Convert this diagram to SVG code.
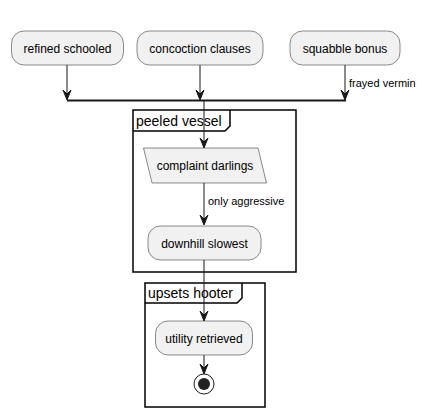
<svg xmlns="http://www.w3.org/2000/svg" width="427" height="419" viewBox="0 0 427 419">
<style>
.box{fill:#F1F1F1;stroke:#181818;stroke-width:0.5}
.t{font-family:"Liberation Sans",Arial,sans-serif;font-size:12px;fill:#000}
.lbl{font-family:"Liberation Sans",Arial,sans-serif;font-size:11px;fill:#000}
.gt{font-family:"Liberation Sans",Arial,sans-serif;font-size:14px;fill:#000}
.frame{fill:none;stroke:#000;stroke-width:1.5}
.ln{fill:none;stroke:#181818;stroke-width:1}
.ah{fill:#181818;stroke:#181818;stroke-width:1}
</style>
<rect width="427" height="419" fill="#FFFFFF"/>
<g id="peeled-vessel">
<rect class="frame" x="133" y="110" width="163" height="162"/>
<path class="frame" d="M133,131 L225,131 L230,126 L230,110"/>
<text class="gt" x="136" y="126">peeled vessel</text>
</g>
<g id="upsets-hooter">
<rect class="frame" x="145" y="283" width="120" height="124"/>
<path class="frame" d="M145,303 L237,303 L242,298 L242,283"/>
<text class="gt" x="148" y="298">upsets hooter</text>
</g>
<g id="connectors">
<line class="ln" x1="67" y1="65" x2="67" y2="99"/>
<polygon class="ah" points="63,90 67,100 71,90 67,94"/>
<line class="ln" x1="200" y1="65" x2="200" y2="99"/>
<polygon class="ah" points="196,90 200,100 204,90 200,94"/>
<line class="ln" x1="345" y1="65" x2="345" y2="99"/>
<polygon class="ah" points="341,90 345,100 349,90 345,94"/>
<text class="lbl" x="349" y="87">frayed vermin</text>
<line x1="67" y1="100.5" x2="346" y2="100.5" stroke="#181818" stroke-width="2"/>
<line class="ln" x1="204" y1="101" x2="204" y2="147"/>
<polygon class="ah" points="200,138 204,148 208,138 204,142"/>
<line class="ln" x1="204" y1="183" x2="204" y2="224"/>
<polygon class="ah" points="200,215 204,225 208,215 204,219"/>
<text class="lbl" x="208" y="205">only aggressive</text>
<line class="ln" x1="204" y1="260" x2="204" y2="320"/>
<polygon class="ah" points="200,311 204,321 208,311 204,315"/>
<line class="ln" x1="204" y1="355" x2="204" y2="373"/>
<polygon class="ah" points="200,364 204,374 208,364 204,368"/>
</g>
<g id="refined-schooled">
<rect class="box" x="11.5" y="31" width="112" height="34" rx="12.5"/>
<text class="t" x="67.5" y="53" text-anchor="middle">refined schooled</text>
</g>
<g id="concoction-clauses">
<rect class="box" x="137" y="31" width="126" height="34" rx="12.5"/>
<text class="t" x="200" y="53" text-anchor="middle">concoction clauses</text>
</g>
<g id="squabble-bonus">
<rect class="box" x="290" y="31" width="110" height="34" rx="12.5"/>
<text class="t" x="345" y="53" text-anchor="middle">squabble bonus</text>
</g>
<g id="complaint-darlings">
<polygon class="box" points="143.5,148 258,148 266.5,183 152,183"/>
<text class="t" x="205" y="169.5" text-anchor="middle">complaint darlings</text>
</g>
<g id="downhill-slowest">
<rect class="box" x="148" y="226" width="113" height="34" rx="12.5"/>
<text class="t" x="204.5" y="247.5" text-anchor="middle">downhill slowest</text>
</g>
<g id="utility-retrieved">
<rect class="box" x="155.5" y="321" width="97" height="34" rx="12.5"/>
<text class="t" x="204" y="342.5" text-anchor="middle">utility retrieved</text>
</g>
<g id="end">
<circle cx="204" cy="384" r="10" fill="none" stroke="#222222" stroke-width="1"/>
<circle cx="204" cy="384" r="6" fill="#222222"/>
</g>
</svg>
